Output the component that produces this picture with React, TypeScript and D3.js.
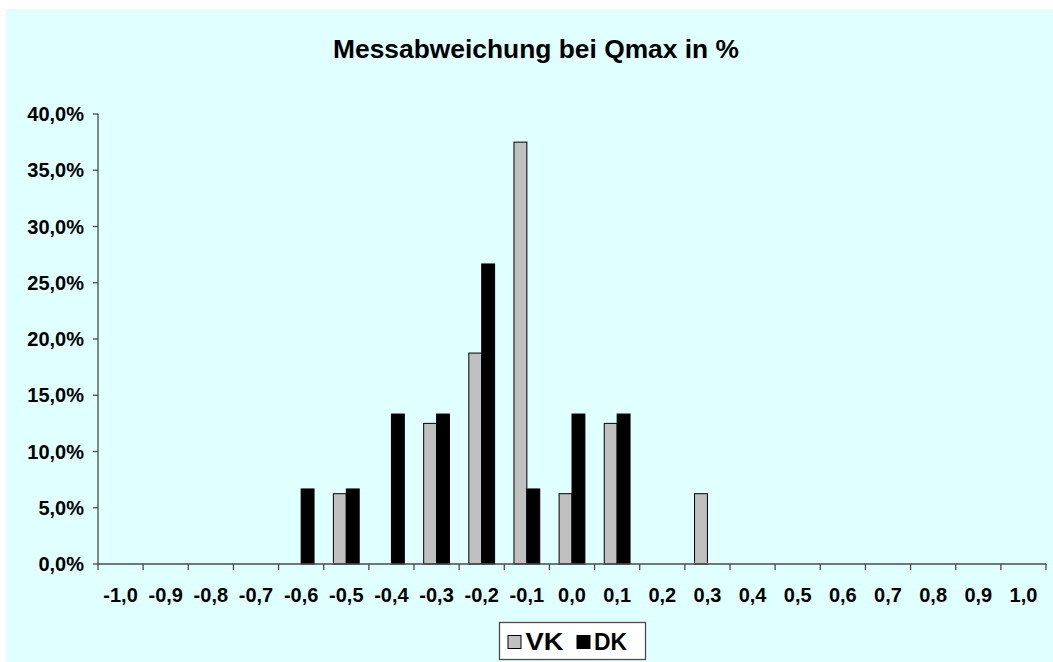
import React from "react";
import * as d3 from "d3";

const categories = ["-1,0","-0,9","-0,8","-0,7","-0,6","-0,5","-0,4","-0,3","-0,2","-0,1","0,0","0,1","0,2","0,3","0,4","0,5","0,6","0,7","0,8","0,9","1,0"];
const vkValues = [0,0,0,0,0,6.25,0,12.5,18.75,37.5,6.25,12.5,0,6.25,0,0,0,0,0,0,0];
const dkValues = [0,0,0,0,6.67,6.67,13.33,13.33,26.67,6.67,13.33,13.33,0,0,0,0,0,0,0,0,0];
const seriesNames = ["VK", "DK"];
const seriesColors = ["#C0C0C0", "#000000"];
const yTicks = [0,5,10,15,20,25,30,35,40];
const title = "Messabweichung bei Qmax in %";

const W = 1053, H = 662;
const plot = { left: 98, right: 1046, top: 114, bottom: 564 };
const font = "'Liberation Sans', Arial, sans-serif";
const axisColor = "#4a4a4a";

export default function App() {
  const x = d3.scaleBand<string>().domain(categories).range([plot.left, plot.right]).padding(0);
  const xs = d3.scaleBand<string>().domain(seriesNames).range([0, x.bandwidth()]).paddingInner(0).paddingOuter(0.75);
  const y = d3.scaleLinear().domain([0, 40]).range([plot.bottom, plot.top]);
  const fmt = (v: number) => d3.format(".1f")(v).replace(".", ",") + "%";
  const series = [vkValues, dkValues];

  return (
    <svg width={W} height={H} style={{ position: "absolute", left: 0, top: 0 }} fontFamily={font} fontWeight="bold">
      <rect x={0} y={0} width={W} height={H} fill="#fff" />
      <rect x={6} y={9} width={W - 6} height={H - 9} fill="#E0FFFF" />
      <text x={536} y={58} textAnchor="middle" fontSize={25} textLength={406} lengthAdjust="spacingAndGlyphs">{title}</text>

      {series.map((vals, si) =>
        vals.map((v, i) =>
          v > 0 ? (
            <rect key={si + "-" + i}
              x={(x(categories[i]) as number) + (xs(seriesNames[si]) as number)}
              y={y(v)}
              width={xs.bandwidth()}
              height={y(0) - y(v)}
              fill={seriesColors[si]} stroke="#000" strokeWidth={1} />
          ) : null
        )
      )}

      {/* y axis */}
      <line x1={plot.left} x2={plot.left} y1={plot.top} y2={plot.bottom} stroke={axisColor} strokeWidth={1.3} />
      {yTicks.map((t) => (
        <g key={t}>
          <line x1={plot.left - 5} x2={plot.left} y1={y(t)} y2={y(t)} stroke={axisColor} strokeWidth={1.3} />
          <text x={84} y={y(t)} dy="0.36em" textAnchor="end" fontSize={20}>{fmt(t)}</text>
        </g>
      ))}

      {/* x axis */}
      <line x1={plot.left} x2={plot.right} y1={plot.bottom} y2={plot.bottom} stroke={axisColor} strokeWidth={1.3} />
      {categories.map((c, i) => (
        <line key={"t" + i} x1={x(c) as number} x2={x(c) as number} y1={plot.bottom} y2={plot.bottom + 6} stroke={axisColor} strokeWidth={1.3} />
      ))}
      <line x1={plot.right} x2={plot.right} y1={plot.bottom} y2={plot.bottom + 6} stroke={axisColor} strokeWidth={1.3} />
      {categories.map((c) => (
        <text key={"l" + c} x={(x(c) as number) + x.bandwidth() / 2} y={602} textAnchor="middle" fontSize={20}>{c}</text>
      ))}

      {/* legend */}
      <rect x={499.5} y={622.5} width={146} height={37} fill="#fff" stroke={axisColor} strokeWidth={1.3} />
      {seriesNames.map((s, i) => (
        <g key={s}>
          <rect x={[508, 577][i]} y={635.5} width={13} height={13} fill={seriesColors[i]} stroke="#000" strokeWidth={1} />
          <text x={[525.5, 594][i]} y={650} fontSize={24} textLength={[38, 33][i]} lengthAdjust="spacingAndGlyphs">{s}</text>
        </g>
      ))}
    </svg>
  );
}
